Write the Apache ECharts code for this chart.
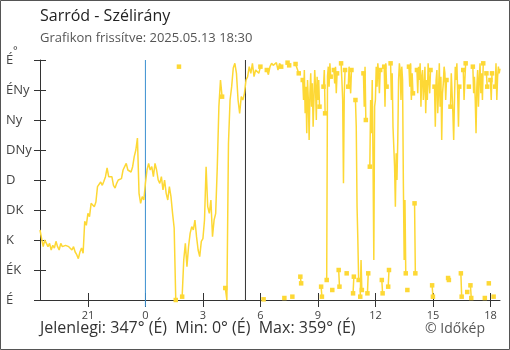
<!DOCTYPE html>
<html><head><meta charset="utf-8">
<script src="https://cdn.jsdelivr.net/npm/echarts@6/dist/echarts.min.js"></script>
<style>html,body{margin:0;padding:0;background:#fff}#c{width:510px;height:350px}</style>
</head><body><div id="c"></div>
<script>
const titleText = 'Sarród - Szélirány';
const subtitleText = 'Grafikon frissítve: 2025.05.13 18:30';
const footerText = 'Jelenlegi: 347° (É)  Min: 0° (É)  Max: 359° (É)';
const copyrightText = '© Időkép';
const yTickLabels = ['É','ÉK','K','DK','D','DNy','Ny','ÉNy','É'];
const xTickHours = [-3, 0, 3, 6, 9, 12, 15, 18];
const midnightHour = 0;
const sunriseHour = 5.22;

// Part A: 18:30 (previous day) .. 07:55, one value per 5 minutes (null = gap)
const startA = -5.5, stepA = 5;
const dir1830 = [105, 92, 80, 90, 85, 80];
const dir19 = [85, 75, 82, 78, 88, 80, 75, 85, 80, 78, 82, 80];
const dir20 = [80, 78, 75, 80, 72, 68, 62, 72, 78, 70, 118, 112];
const dir21 = [130, 125, 145, 143, 140, 147, 170, 168, 177, 172, 178, 185];
const dir22 = [198, 185, 182, 185, 172, 168, 175, 180, 178, 182, 195, 200];
const dir23 = [205, 195, 198, 192, 200, 215, 225, 243, 160, 145, 155, 150];
const dir00 = [175, 195, 205, 195, 200, 185, 205, 195, 180, 175, 185, 165];
const dir01 = [180, 160, 150, 170, 155, 130, 108, 0, null, 350, null, 5];
const dir02 = [60, 85, 50, 80, 100, 110, 105, 120, 95, 75, 65, 88];
const dir03 = [92, 120, 200, 140, 130, 150, 95, 120, 130, 200, 290, 330];
const dir04 = [305, null, 18, 0, 235, 300, 320, 348, 355, 340, 300, 280];
const dir05 = [305, 300, 310, 330, 335, 350, 340, 355, 335, 345, 348, 340];
const dir06 = [350, null, 1, null, 345, 338, 350, 355, 352, 350, 356, 345];
const dir07 = [355, 350, null, 3, null, 356, 352, null, 5, null, 354, 357];

// Part B: 08:00 .. 18:30, one value per 2.5 minutes (null = gap)
const startB = 8, stepB = 2.5;
const dir08 = [340, null, 35, 25, null, 330, 300, 345, 280, 320, 250, 330, 300, 240, 310, 340, 290, 325, 260, 300, 345, 320, 270, 335];
const dir09 = [300, 330, 290, null, 20, 5, null, 320, 345, 280, null, 30, 335, 350, 320, 355, 335, null, 15, null, 345, 325, 350, 310];
const dir10 = [340, null, 45, 20, null, 355, 330, 300, 175, 310, 345, null, 40, null, 320, 350, 330, 310, 345, null, 10, 35, null, 300];
const dir11 = [260, 140, 90, 30, null, 5, 60, 15, null, 340, 290, 350, 270, null, 10, 40, null, 200, 300, 250, 330, 210, 60, 290];
const dir12 = [300, 350, 320, 355, 340, 310, 345, null, 30, 10, null, 350, 290, 355, 320, null, 20, 45, null, 355, 300, 340, 260, 230];
const dir13 = [200, 140, 220, 180, 240, 330, 355, 345, 300, 350, 330, 175, 60, 150, 40, null, 15, null, 350, 320, 355, 300, 340, 310];
const dir14 = [null, 145, 40, null, 345, 310, 350, 330, 355, 290, 335, 345, 300, 320, 350, 280, 330, 300, 355, 330, 310, 345, null, 22];
const dir15 = [5, null, 320, 260, 330, 345, 280, 310, 355, 290, 335, 240, 310, 325, 350, 340, 300, 330, null, 33, 30, null, 290, 340];
const dir16 = [310, 280, 240, 300, 350, 330, 355, 310, 260, 320, null, 40, 5, null, 345, 300, 330, 355, null, 12, null, 320, null, 22];
const dir17 = [3, null, 350, 310, 335, 300, 250, 320, 345, 290, 330, 355, 310, 340, 300, 355, null, 3, null, 340, 320, null, 25, null];
const dir18 = [330, 300, 340, null, 5, null, 320, 355, 300, 335, 350, 340, 347];

const partA = [].concat(dir1830, dir19, dir20, dir21, dir22, dir23, dir00, dir01, dir02,
  dir03, dir04, dir05, dir06, dir07);
const partB = [].concat(dir08, dir09, dir10, dir11, dir12, dir13, dir14, dir15, dir16, dir17, dir18);

const FONT = '"Open Sans", sans-serif';
const YELLOW = '#fdd835';

const points = partA.map((v, i) => [startA + i * stepA / 60, v])
  .concat(partB.map((v, i) => [startB + i * stepB / 60, v]));

const seriesData = points.map((p, i) => {
  const v = p[1];
  const prevNull = i > 0 && points[i - 1][1] === null;
  const nextNull = i < points.length - 1 && points[i + 1][1] === null;
  const edge = v !== null && (prevNull || nextNull);
  return { value: p, symbol: edge ? 'rect' : 'none', symbolSize: 4.5 };
});

const chart = echarts.init(document.getElementById('c'), null, { renderer: 'canvas' });
const hourFmt = h => String((h + 24) % 24);
chart.setOption({
  animation: false,
  backgroundColor: '#fff',
  textStyle: { fontFamily: FONT },
  grid: { left: 40, right: 10, top: 60, bottom: 50 },
  xAxis: [{
    type: 'value', min: -5.5, max: 18.5, position: 'bottom',
    axisLine: { show: true, onZero: false, lineStyle: { color: '#333', width: 1 } },
    axisTick: { show: true, length: 7, lineStyle: { color: '#333' }, customValues: xTickHours },
    axisLabel: { show: true, color: '#444', fontSize: 11, fontFamily: FONT, margin: 10,
      customValues: xTickHours, formatter: hourFmt },
    splitLine: { show: false }
  }, {
    type: 'value', min: -5.5, max: 18.5, position: 'bottom', gridIndex: 0,
    axisLine: { show: false, onZero: false },
    axisTick: { show: true, inside: true, length: 7, lineStyle: { color: '#333' }, customValues: xTickHours },
    axisLabel: { show: false },
    splitLine: { show: false }
  }],
  yAxis: [{
    type: 'value', min: 0, max: 360, interval: 45, position: 'left',
    axisLine: { show: true, onZero: false, lineStyle: { color: '#333', width: 1 } },
    axisTick: { show: true, length: 6, lineStyle: { color: '#333' } },
    axisLabel: { color: '#444', fontSize: 13, fontFamily: FONT, align: 'left', margin: 34,
      formatter: v => yTickLabels[Math.round(v / 45)] },
    splitLine: { show: false }
  }, {
    type: 'value', min: 0, max: 360, interval: 45, position: 'left', gridIndex: 0,
    axisLine: { show: false, onZero: false },
    axisTick: { show: true, inside: true, length: 6, lineStyle: { color: '#333' } },
    axisLabel: { show: false },
    splitLine: { show: false }
  }],
  series: [{
    type: 'line',
    xAxisIndex: 0, yAxisIndex: 0,
    data: [[midnightHour, -10], [midnightHour, 360]],
    symbol: 'none', clip: false, silent: true,
    lineStyle: { color: '#3a8fd0', width: 1 },
    z: 1
  }, {
    type: 'line',
    xAxisIndex: 0, yAxisIndex: 0,
    data: [[sunriseHour, 0], [sunriseHour, 360]],
    symbol: 'none', silent: true,
    lineStyle: { color: '#333', width: 1 },
    z: 1
  }, {
    type: 'line',
    xAxisIndex: 0, yAxisIndex: 0,
    data: seriesData,
    connectNulls: false,
    showSymbol: true,
    showAllSymbol: true,
    lineStyle: { color: YELLOW, width: 1.5 },
    itemStyle: { color: YELLOW },
    z: 3
  }],
  graphic: [
    { type: 'rect', shape: { x: 0.5, y: 0.5, width: 509, height: 349 },
      style: { fill: null, stroke: '#555', lineWidth: 1 }, silent: true },
    { type: 'text', left: 40, top: 8, style: { text: titleText, fill: '#222', font: '16px ' + FONT } },
    { type: 'text', left: 40, top: 32, style: { text: subtitleText, fill: '#555', font: '13px ' + FONT } },
    { type: 'text', left: 13, top: 45, style: { text: '°', fill: '#444', font: '11px ' + FONT } },
    { type: 'text', left: 40, top: 320, style: { text: footerText, fill: '#333', font: '16px ' + FONT } },
    { type: 'text', left: 425, top: 322, style: { text: copyrightText, fill: '#555', font: '14px ' + FONT } }
  ]
});
</script></body></html>
